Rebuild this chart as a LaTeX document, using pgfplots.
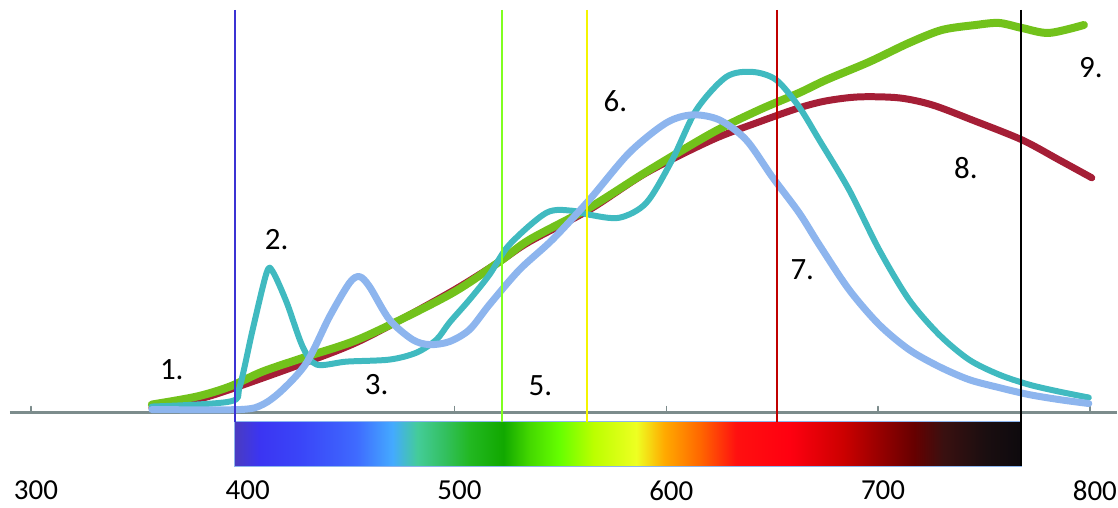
\documentclass[border=0pt]{standalone}
\usepackage{fontspec}
\setmainfont{Carlito}
\usepackage{pgfplots}
\pgfplotsset{compat=1.18}

\definecolor{cgreen}{HTML}{72C21B}
\definecolor{cred}{HTML}{A51E36}
\definecolor{cteal}{HTML}{40BAC0}
\definecolor{cblue}{HTML}{8DB5EE}
\definecolor{axgray}{HTML}{7C8C8C}
\definecolor{vblue}{HTML}{3B32D3}
\definecolor{vgreen}{HTML}{80FF20}
\definecolor{vyellow}{HTML}{F5F500}
\definecolor{vred}{HTML}{C00000}

% spectrum colours
\definecolor{s0}{HTML}{4A3CC0}
\definecolor{s1}{HTML}{3B35F2}
\definecolor{s2}{HTML}{3A45F8}
\definecolor{s3}{HTML}{3D5EFC}
\definecolor{s4}{HTML}{3F6BFF}
\definecolor{s5}{HTML}{44AAFF}
\definecolor{s6}{HTML}{44CC99}
\definecolor{s7}{HTML}{33C060}
\definecolor{s8}{HTML}{22B822}
\definecolor{s9}{HTML}{11A800}
\definecolor{s10}{HTML}{44D800}
\definecolor{s11}{HTML}{66FF00}
\definecolor{s12}{HTML}{BBFF00}
\definecolor{s13}{HTML}{EEFF22}
\definecolor{s14}{HTML}{FFAA00}
\definecolor{s15}{HTML}{FF6600}
\definecolor{s16}{HTML}{FF1010}
\definecolor{s17}{HTML}{FF0010}
\definecolor{s18}{HTML}{CC0000}
\definecolor{s19}{HTML}{990000}
\definecolor{s20}{HTML}{660000}
\definecolor{s21}{HTML}{3A1010}
\definecolor{s22}{HTML}{1A0E10}
\definecolor{s23}{HTML}{0E0A0E}

\pgfdeclarehorizontalshading{spectrum}{100bp}{%
  color(0bp)=(s0); color(25bp)=(s0); color(26.59bp)=(s1); color(29.13bp)=(s2);
  color(31.67bp)=(s3); color(32.75bp)=(s4); color(35.04bp)=(s5); color(36.63bp)=(s6);
  color(38.34bp)=(s7); color(39.93bp)=(s8); color(42.09bp)=(s9); color(43.74bp)=(s10);
  color(45.65bp)=(s11); color(47.81bp)=(s12); color(50.54bp)=(s13); color(52.32bp)=(s14);
  color(54.61bp)=(s15); color(56.89bp)=(s16); color(60.26bp)=(s17); color(63.69bp)=(s18);
  color(65.91bp)=(s19); color(68.20bp)=(s20); color(70.04bp)=(s21); color(72.77bp)=(s22);
  color(75bp)=(s23); color(100bp)=(s23)}

\begin{document}
\begin{tikzpicture}
\begin{axis}[
    width=1118pt, height=508pt, scale only axis,
    xmin=285.4, xmax=812.7, ymin=-97, ymax=411,
    hide axis, clip=false,
    every axis plot/.append style={smooth, line cap=round, line join=round}
]
% keep the full canvas as bounding box
\path (rel axis cs:0,0) rectangle (rel axis cs:1,1);

% baseline and ticks
\addplot[axgray, line width=2.5pt, sharp plot, line cap=butt] coordinates {(290.1,-2) (812.7,-2)};
\pgfplotsinvokeforeach{300,400,500,600,700,800}{
  \addplot[axgray, line width=1.5pt, sharp plot] coordinates {(#1,-2) (#1,4)};
}

% 8. red
\addplot[cred, line width=7pt] coordinates {
(357.1,3) (378.3,11) (393.9,21) (428.3,47) (456.6,71) (497.6,118) (521.2,149)
(535.4,169) (563.7,201) (590.6,238) (621.7,271) (643.9,289) (662.7,303)
(675.5,310) (691,314) (709.9,313) (725.5,306) (744.3,291) (767.9,271)
(785.4,251) (800.9,233)};

% 9. green
\addplot[cgreen, line width=8pt] coordinates {
(357.1,6) (378.3,14) (393.9,24) (409.4,39) (430.2,54) (456.6,73) (497.6,116)
(521.2,149) (535.4,171) (563.7,203) (590.6,239) (621.7,278) (643.9,301)
(662.7,318) (675.5,331) (695.8,349) (714.6,368) (730.2,381) (746.2,386)
(757.1,388) (767.9,383) (780.7,378) (797.2,386)};

% teal
\addplot[cteal, line width=6pt] coordinates {
(357.1,4) (393.9,9) (398.6,24) (404.7,81) (411.3,138) (414.2,139) (420.8,108)
(428.3,64) (434.9,46) (449.1,49) (469.3,51) (482.1,58) (491.5,71) (497.6,88)
(507.1,111) (516.5,136) (525.9,166) (543.4,198) (555.7,200) (563.7,196)
(577.8,193) (590.6,208) (602.8,251) (614.2,301) (628.3,334) (640.6,339)
(651.9,331) (662.7,304) (672.2,271) (686.3,221) (700.5,161) (714.6,111)
(728.8,76) (742.9,51) (757.1,36) (771.2,26) (785.4,19) (799.5,13)};

% light blue
\addplot[cblue, line width=7pt] coordinates {
(357.1,1) (398.6,1) (409.4,6) (418.9,21) (430.2,48) (441.0,94) (450.5,128)
(455.2,134) (459.9,124) (469.3,91) (480.2,71) (488.2,66) (497.6,69) (507.1,81)
(516.5,106) (530.7,141) (546.2,171) (563.7,211) (582.5,258) (600,288)
(612.3,296) (625,291) (637.7,271) (650,234) (662.7,198) (672.2,166)
(686.3,121) (700.5,86) (714.6,61) (728.8,44) (742.9,31) (757.1,23)
(771.2,16) (785.4,11) (799.5,7)};

% spectrum bar
\shade[shading=spectrum] (axis cs:396.2,-11) rectangle (axis cs:767.5,-56);
\draw[cblue, line width=1.2pt] (axis cs:396.2,-11) rectangle (axis cs:767.5,-56);

% vertical markers
\addplot[vblue, line width=2pt, sharp plot, line cap=butt] coordinates {(396.2,401) (396.2,-11)};
\addplot[vgreen, line width=2pt, sharp plot, line cap=butt] coordinates {(522.2,401) (522.2,-11)};
\addplot[vyellow, line width=2pt, sharp plot, line cap=butt] coordinates {(562.7,401) (562.7,-11)};
\addplot[vred, line width=2pt, sharp plot, line cap=butt] coordinates {(652.4,401) (652.4,-11)};
\addplot[black, line width=2pt, sharp plot, line cap=butt] coordinates {(767.5,401) (767.5,-56)};

% tick labels
\pgfplotsinvokeforeach{300,400,500,600,700,800}{
  \node[font=\fontsize{29}{34}\selectfont, inner sep=0pt, xshift=5pt] at (axis cs:#1,-80) {#1};
}

% curve labels
\begin{scope}[every node/.style={font=\fontsize{31}{36}\selectfont, inner sep=0pt}]
\node at (axis cs:366.5,41) {1.};
\node at (axis cs:416.0,171) {2.};
\node at (axis cs:463.2,26) {3.};
\node at (axis cs:540.6,25) {5.};
\node at (axis cs:576.0,310) {6.};
\node at (axis cs:664.2,141) {7.};
\node at (axis cs:741.5,243) {8.};
\node at (axis cs:800.5,343) {9.};
\end{scope}
\end{axis}
\end{tikzpicture}
\end{document}
